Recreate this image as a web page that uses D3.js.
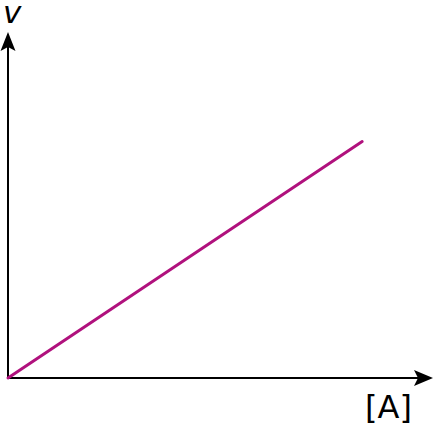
<!DOCTYPE html>
<html><head><meta charset="utf-8">
<script src="https://cdn.jsdelivr.net/npm/d3@7"></script>
<style>html,body{margin:0;padding:0;background:#fff;}svg{display:block;}</style>
</head><body>
<script>
const concentration = [0, 10];
const rate = [0, 8.2];
const axisLabels = ["v", "[A]"];

const W = 436, H = 428;
const svg = d3.select("body").append("svg").attr("width", W).attr("height", H);
const x = d3.scaleLinear().domain([0, 12]).range([8, 433]);
const y = d3.scaleLinear().domain([0, 12]).range([378, 32]);

// axes
svg.append("line").attr("x1", x(0)).attr("y1", y(0)).attr("x2", x(0)).attr("y2", y(12) + 10)
  .attr("stroke", "#000").attr("stroke-width", 2);
svg.append("line").attr("x1", x(0) - 1).attr("y1", y(0)).attr("x2", x(12) - 10).attr("y2", y(0))
  .attr("stroke", "#000").attr("stroke-width", 2);
// arrowheads
svg.append("path").attr("d", `M${x(0)},${y(12)} L${x(0)-7.5},${y(12)+19} L${x(0)},${y(12)+15} L${x(0)+7.5},${y(12)+19} Z`).attr("fill", "#000");
svg.append("path").attr("d", `M${x(12)},${y(0)} L${x(12)-19},${y(0)-8} L${x(12)-15},${y(0)} L${x(12)-19},${y(0)+8} Z`).attr("fill", "#000");

// data line
const pts = concentration.map((c, i) => [c, rate[i]]);
svg.append("path").datum(pts)
  .attr("d", d3.line().x(d => x(d[0])).y(d => y(d[1])))
  .attr("fill", "none").attr("stroke", "#b0117d").attr("stroke-width", 3).attr("stroke-linecap", "round");

svg.append("text").attr("x", 3).attr("y", 23).text(axisLabels[0])
  .attr("font-family", "DejaVu Sans").attr("font-style", "italic").attr("font-size", 31);
svg.append("text").attr("x", 365).attr("y", 418).text(axisLabels[1])
  .attr("font-family", "DejaVu Sans").attr("font-size", 32);
</script>
</body></html>
